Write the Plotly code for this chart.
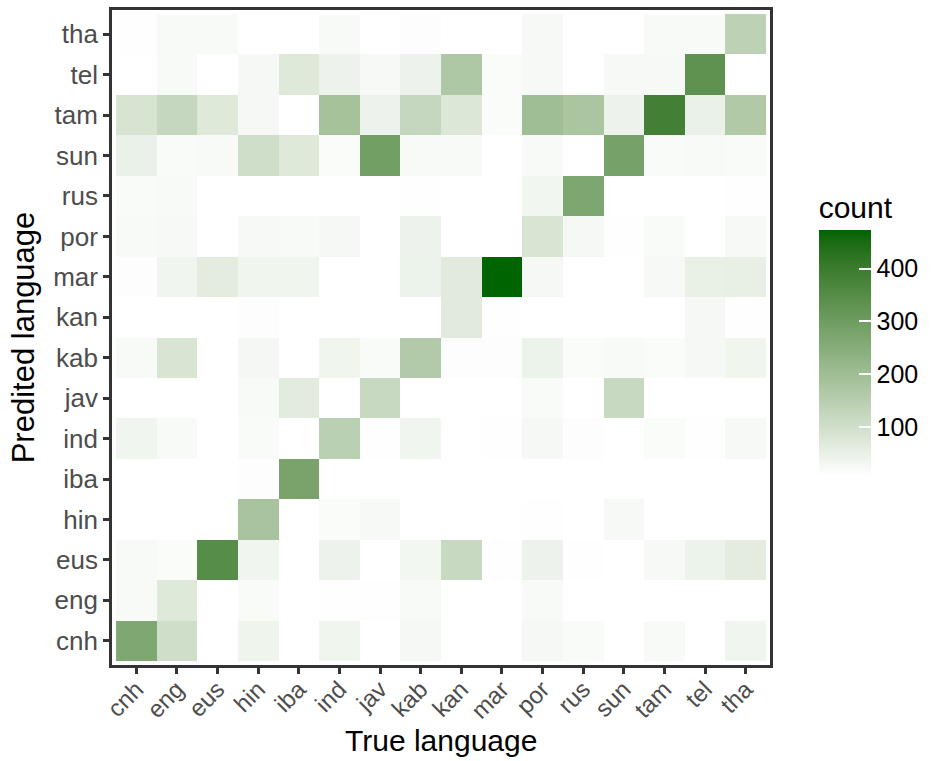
import plotly.graph_objects as go

# ---- data -------------------------------------------------------------
languages = ["cnh", "eng", "eus", "hin", "iba", "ind", "jav", "kab",
             "kan", "mar", "por", "rus", "sun", "tam", "tel", "tha"]

# counts per predicted language (rows), columns = true language (same order)
pred_cnh = [265, 102, None, 39, None, 37, None, 27, None, None, 27, 19, None, 23, None, 35]
pred_eng = [21, 71, None, 19, None, 11, 11, 23, None, None, 21, None, None, None, None, None]
pred_eus = [23, 17, 348, 35, None, 41, None, 31, 118, 11, 41, 11, None, 25, 43, 63]
pred_hin = [None, None, None, 182, None, 17, 25, None, None, None, 11, None, 25, None, None, None]
pred_iba = [None, None, None, 13, 279, None, None, None, None, None, None, None, None, None, None, None]
pred_ind = [35, 21, None, 19, None, 144, 11, 35, None, 9, 27, 13, 7, 17, 11, 25]
pred_jav = [None, None, None, 23, 65, None, 118, None, None, None, 19, None, 118, None, None, None]
pred_kab = [21, 84, None, 29, None, 37, 19, 160, 13, 13, 43, 17, 21, 17, 27, 37]
pred_kan = [None, None, None, 13, None, None, None, None, 67, 11, None, None, None, None, 27, 11]
pred_mar = [13, 35, 63, 37, 37, None, None, 43, 67, 473, 27, None, None, 25, 49, 51]
pred_por = [21, 25, None, 25, 21, 27, None, 41, None, None, 84, 27, 11, 19, None, 25]
pred_rus = [19, 21, None, None, None, None, None, 11, None, None, 33, 269, None, None, None, 11]
pred_sun = [47, 19, 21, 102, 71, 17, 292, 23, 21, None, 21, None, 285, 19, 23, 19]
pred_tam = [85, 124, 71, 27, None, 188, 41, 124, 77, 17, 198, 176, 41, 385, 47, 164]
pred_tel = [None, 23, None, 27, 71, 41, 25, 41, 170, 17, 25, None, 25, 25, 332, None]
pred_tha = [11, 23, 23, None, None, 23, None, 13, None, None, 25, None, None, 21, 21, 140]

colorbar_ticks = [100, 200, 300, 400]

z = [pred_cnh, pred_eng, pred_eus, pred_hin, pred_iba, pred_ind, pred_jav, pred_kab,
     pred_kan, pred_mar, pred_por, pred_rus, pred_sun, pred_tam, pred_tel, pred_tha]


# ---- colour scale: white -> darkgreen interpolated in CIE Lab (like ggplot) ----
def _lin(c):
    c = c / 255.0
    return c / 12.92 if c <= 0.04045 else ((c + 0.055) / 1.055) ** 2.4


def _gam(c):
    c = 12.92 * c if c <= 0.0031308 else 1.055 * c ** (1 / 2.4) - 0.055
    return max(0, min(255, round(c * 255)))


def rgb_to_lab(rgb):
    r, g, b = (_lin(v) for v in rgb)
    x = (0.4124 * r + 0.3576 * g + 0.1805 * b) / 0.95047
    y = 0.2126 * r + 0.7152 * g + 0.0722 * b
    zz = (0.0193 * r + 0.1192 * g + 0.9505 * b) / 1.08883
    f = lambda t: t ** (1 / 3) if t > 0.008856 else 7.787 * t + 16 / 116
    fx, fy, fz = f(x), f(y), f(zz)
    return 116 * fy - 16, 500 * (fx - fy), 200 * (fy - fz)


def lab_to_rgb(lab):
    L, a, b = lab
    fy = (L + 16) / 116
    fx = fy + a / 500
    fz = fy - b / 200
    finv = lambda t: t ** 3 if t ** 3 > 0.008856 else (t - 16 / 116) / 7.787
    x, y, zz = finv(fx) * 0.95047, finv(fy), finv(fz) * 1.08883
    r = 3.2406 * x - 1.5372 * y - 0.4986 * zz
    g = -0.9689 * x + 1.8758 * y + 0.0415 * zz
    bb = 0.0557 * x - 0.2040 * y + 1.0570 * zz
    return _gam(r), _gam(g), _gam(bb)


low = rgb_to_lab((255, 255, 255))
high = rgb_to_lab((0, 100, 0))
n = 20
colorscale = []
for i in range(n + 1):
    t = i / n
    lab = tuple(low[k] + (high[k] - low[k]) * t for k in range(3))
    r, g, b = lab_to_rgb(lab)
    colorscale.append([t, f"rgb({r},{g},{b})"])

FONT = "Liberation Sans, Arial, sans-serif"

fig = go.Figure(
    go.Heatmap(
        x=languages,
        y=languages,
        z=z,
        colorscale=colorscale,
        hoverongaps=False,
        colorbar=dict(
            title=dict(text="count", side="top",
                       font=dict(family=FONT, size=30, color="black")),
            thickness=52,
            thicknessmode="pixels",
            len=284,
            lenmode="pixels",
            x=1.074,
            xanchor="left",
            xpad=0,
            y=0.722,
            yanchor="top",
            ypad=0,
            outlinewidth=0,
            tickvals=colorbar_ticks,
            ticks="inside",
            ticklen=12,
            tickwidth=2,
            tickcolor="white",
            tickprefix="\u00a0\u00a0",
            tickfont=dict(family=FONT, size=25, color="black"),
        ),
    )
)

axis_common = dict(
    type="category",
    showgrid=False,
    zeroline=False,
    showline=True,
    mirror=True,
    linecolor="#333333",
    linewidth=2.7,
    ticks="outside",
    ticklen=6,
    tickwidth=2.5,
    tickcolor="#333333",
    range=[-0.6, len(languages) - 0.4],
)

fig.update_layout(
    width=937,
    height=761,
    margin=dict(l=112, r=162, t=7, b=96),
    paper_bgcolor="white",
    plot_bgcolor="white",
    xaxis=dict(
        **axis_common,
        categoryorder="array",
        categoryarray=languages,
        tickangle=-45,
        ticklabelstandoff=-8,
        tickfont=dict(family=FONT, size=24, color="#4D4D4D"),
    ),
    yaxis=dict(
        **axis_common,
        categoryorder="array",
        categoryarray=languages,
        tickfont=dict(family=FONT, size=26, color="#4D4D4D"),
        title=dict(text="Predited language", standoff=10,
                   font=dict(family=FONT, size=31, color="black")),
    ),
    annotations=[
        dict(
            text="True language",
            xref="paper", yref="paper",
            x=0.5, y=-0.1429,
            xanchor="center", yanchor="bottom",
            showarrow=False,
            font=dict(family=FONT, size=30, color="black"),
        )
    ],
)

# remove the browser's default 8px page margin so the figure sits at (0, 0)
fig.write_html("out.html",
               config={"displayModeBar": False},
               post_script="document.body.style.margin='0';")
